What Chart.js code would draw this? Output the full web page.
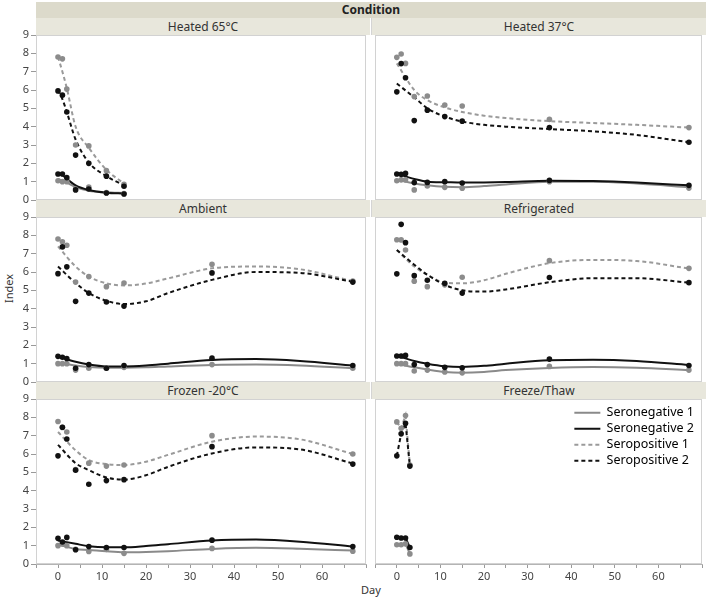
<!DOCTYPE html>
<html>
<head>
<meta charset="utf-8">
<script src="https://cdn.jsdelivr.net/npm/chart.js@4.4.1/dist/chart.umd.min.js"></script>
<style>
  body { margin: 0; background: #fff; font-family: 'Noto Sans', 'Open Sans', sans-serif; }
  #wrap { position: relative; width: 708px; height: 598px; overflow: hidden; }
  .bar { position: absolute; background: #e8e7dc; color: #333; font-size: 12px; text-align: center; line-height: 17px; }
  .head { background: #dcdacb; font-weight: bold; color: #222; line-height: 16px; }
  .box { position: absolute; }
  .lbl { position: absolute; font-size: 11px; color: #333; }
</style>
</head>
<body>
<div id="wrap"></div>
<script>
// серии и дни отбора проб
const seriesNames = ['Seronegative 1', 'Seronegative 2', 'Seropositive 1', 'Seropositive 2'];
const sampleDays = [0, 1, 2, 4, 7, 11, 15, 35, 67];
const heated65Days = [0, 1, 2, 4, 7, 11, 15];
const freezeCycles = [0, 1, 2, 3];
const fitDays = [0, 4, 7, 11, 15, 20, 25, 35, 45, 55, 67];
const xTicks = [-5, 70, 5];   // min, max, step
const yTicks = [0, 9, 1];

// наблюдения (порядок как в seriesNames)
const heated65Obs = [
  [1.05, 1.0, 1.0, 0.6, 0.7, 0.4, 0.35],
  [1.42, 1.42, 1.22, 0.55, 0.6, 0.38, 0.33],
  [7.8, 7.7, 6.05, 3.0, 2.95, 1.6, 0.85],
  [5.95, 5.72, 4.8, 2.45, 2.0, 1.3, 0.75]
];
const heated65Fit = [
  [1.15, 1.05, 0.95, 0.7, 0.5, 0.42, 0.38],
  [1.42, 1.35, 1.15, 0.8, 0.55, 0.4, 0.35],
  [7.8, 7.0, 6.1, 4.0, 2.85, 1.65, 0.9],
  [6.0, 5.5, 4.8, 3.3, 2.05, 1.3, 0.8]
];
const heated37Obs = [
  [1.05, 1.1, 1.1, 0.55, 0.76, 0.69, 0.64, 1.0, 0.65],
  [1.42, 1.4, 1.45, 0.95, 0.96, 1.0, 0.93, 1.07, 0.8],
  [7.78, 7.96, 7.45, 5.64, 5.67, 5.18, 5.13, 4.4, 3.95],
  [5.9, 7.44, 6.67, 4.33, 4.9, 4.55, 4.3, 3.95, 3.15]
];
const heated37Fit = [
  [1.1, 0.9, 0.8, 0.72, 0.7, 0.76, 0.85, 1.0, 1.0, 0.9, 0.7],
  [1.42, 1.15, 1.0, 0.97, 0.95, 0.96, 0.98, 1.05, 1.03, 0.95, 0.8],
  [7.45, 6.0, 5.45, 5.05, 4.8, 4.6, 4.47, 4.3, 4.2, 4.1, 3.95],
  [6.35, 5.6, 5.0, 4.55, 4.28, 4.1, 4.0, 3.87, 3.75, 3.55, 3.15]
];
const ambientObs = [
  [1.0, 1.0, 1.0, 0.65, 0.75, 0.75, 0.8, 0.95, 0.75],
  [1.4, 1.35, 1.28, 0.75, 0.95, 0.75, 0.9, 1.3, 0.9],
  [7.8, 7.65, 7.46, 5.45, 5.75, 5.2, 5.4, 6.42, 5.5],
  [5.91, 7.37, 6.28, 4.4, 4.85, 4.36, 4.14, 5.95, 5.45]
];
const ambientFit = [
  [1.05, 0.9, 0.82, 0.78, 0.78, 0.8, 0.85, 0.93, 0.95, 0.9, 0.75],
  [1.4, 1.1, 0.95, 0.85, 0.85, 0.9, 1.0, 1.2, 1.25, 1.15, 0.9],
  [7.4, 6.3, 5.75, 5.38, 5.27, 5.37, 5.65, 6.2, 6.3, 6.15, 5.5],
  [6.3, 5.4, 4.85, 4.43, 4.25, 4.4, 4.85, 5.57, 6.0, 5.95, 5.47]
];
const refrigeratedObs = [
  [1.0, 1.0, 1.0, 0.6, 0.65, 0.55, 0.5, 0.85, 0.65],
  [1.42, 1.42, 1.45, 0.95, 0.95, 0.8, 0.78, 1.25, 0.9],
  [7.76, 7.75, 7.2, 5.5, 5.2, 5.3, 5.71, 6.62, 6.2],
  [5.9, 8.6, 7.6, 5.8, 5.55, 5.38, 4.85, 5.7, 5.42]
];
const refrigeratedFit = [
  [1.0, 0.8, 0.68, 0.55, 0.51, 0.55, 0.65, 0.77, 0.82, 0.78, 0.64],
  [1.42, 1.15, 1.0, 0.86, 0.82, 0.88, 1.0, 1.19, 1.22, 1.15, 0.93],
  [7.2, 6.3, 5.85, 5.42, 5.38, 5.55, 5.9, 6.48, 6.66, 6.6, 6.19],
  [7.2, 6.4, 5.85, 5.3, 5.0, 4.93, 5.05, 5.44, 5.66, 5.66, 5.42]
];
const frozenObs = [
  [1.0, 1.1, 1.0, 0.8, 0.68, 0.8, 0.58, 0.85, 0.7],
  [1.4, 1.2, 1.45, 0.78, 0.95, 0.9, 0.9, 1.3, 0.95],
  [7.77, 7.45, 7.2, 5.15, 5.5, 5.34, 5.4, 7.0, 6.0],
  [5.9, 7.46, 6.82, 5.12, 4.35, 4.55, 4.6, 6.4, 5.45]
];
const frozenFit = [
  [1.06, 0.82, 0.77, 0.69, 0.64, 0.66, 0.7, 0.82, 0.88, 0.83, 0.73],
  [1.28, 1.1, 0.97, 0.91, 0.91, 0.98, 1.08, 1.28, 1.33, 1.22, 0.95],
  [7.2, 6.2, 5.67, 5.45, 5.4, 5.58, 5.95, 6.67, 6.95, 6.8, 6.0],
  [6.5, 5.5, 5.12, 4.72, 4.6, 4.84, 5.3, 6.03, 6.36, 6.25, 5.48]
];
const freezeObs = [
  [1.05, 1.05, 1.1, 0.55],
  [1.46, 1.42, 1.42, 0.9],
  [7.75, 7.4, 8.1, 5.4],
  [5.9, 7.1, 7.68, 5.34]
];

const panels = [
  { title: 'Heated 65°C', days: heated65Days, obs: heated65Obs, fitX: heated65Days, fit: heated65Fit },
  { title: 'Heated 37°C', days: sampleDays, obs: heated37Obs, fitX: fitDays, fit: heated37Fit },
  { title: 'Ambient', days: sampleDays, obs: ambientObs, fitX: fitDays, fit: ambientFit },
  { title: 'Refrigerated', days: sampleDays, obs: refrigeratedObs, fitX: fitDays, fit: refrigeratedFit },
  { title: 'Frozen -20°C', days: sampleDays, obs: frozenObs, fitX: fitDays, fit: frozenFit },
  { title: 'Freeze/Thaw', days: freezeCycles, obs: freezeObs, fitX: freezeCycles, fit: freezeObs, straight: true }
];

// оформление
const pointColors = ['#8c8c8c', '#111111', '#8c8c8c', '#111111'];
const lineColors = ['#8a8a8a', '#111111', '#9a9a9a', '#111111'];
const dashes = [[], [], [4, 3], [4, 3]];
const colLeft = [36, 371];
const colW = [334, 335];
const rowTop = [35, 217, 399];
const plotH = 165;

const wrap = document.getElementById('wrap');
function addDiv(cls, css, text) {
  const d = document.createElement('div');
  d.className = cls;
  Object.assign(d.style, css);
  if (text) d.textContent = text;
  wrap.appendChild(d);
  return d;
}

addDiv('bar head', { left: '36px', top: '2px', width: '670px', height: '16px' }, 'Condition');
addDiv('lbl', { left: '-12px', top: '281px', transform: 'rotate(-90deg)', width: '40px', textAlign: 'center' }, 'Index');
addDiv('lbl', { left: '351px', top: '582px', width: '40px', textAlign: 'center' }, 'Day');

const framePlugin = {
  id: 'frame',
  afterDraw(chart) {
    const a = chart.chartArea, ctx = chart.ctx;
    ctx.save();
    ctx.strokeStyle = '#d2d2d2';
    ctx.lineWidth = 1;
    ctx.strokeRect(a.left + 0.5, a.top + 0.5, a.right - a.left - 1, a.bottom - a.top - 1);
    ctx.restore();
  }
};

// легенда внутри области графика, справа сверху
const legendPlacer = {
  id: 'legendPlacer',
  afterLayout(chart) {
    const lg = chart.legend;
    if (!lg || !lg.options.display) return;
    const a = chart.chartArea;
    const w = lg.width, h = lg.height;
    lg.left = a.right - w + 2;
    lg.right = lg.left + w;
    lg.top = a.top + 4;
    lg.bottom = lg.top + h;
  }
};

panels.forEach((p, k) => {
  const row = Math.floor(k / 2), col = k % 2;
  const left = col === 0, bottom = row === 2;
  const bar = addDiv('bar', { left: colLeft[col] + 'px', top: (rowTop[row] - 17) + 'px', width: colW[col] + 'px', height: '17px' }, p.title);
  if (!left) {
    bar.style.borderLeft = '1px solid #d4d4d4';
    bar.style.boxSizing = 'border-box';
  }

  const padT = 10, padB = bottom ? 0 : 10, axisH = bottom ? 32 : 0, yW = left ? 36 : 0;
  const box = addDiv('box', {
    left: (colLeft[col] - yW) + 'px', top: (rowTop[row] - padT) + 'px',
    width: (colW[col] + yW) + 'px', height: (plotH + padT + padB + axisH) + 'px'
  });
  const canvas = document.createElement('canvas');
  box.appendChild(canvas);

  const datasets = [];
  // точки: чёрные поверх серых, линии ниже точек
  seriesNames.forEach((name, i) => {
    datasets.push({
      label: name + ' obs',
      data: p.days.map((d, j) => ({ x: d, y: p.obs[i][j] })),
      pointRadius: 2.8,
      pointBackgroundColor: pointColors[i],
      pointBorderColor: pointColors[i],
      pointBorderWidth: 0,
      showLine: false,
      order: i % 2 === 1 ? 0 : 1
    });
    datasets.push({
      label: name,
      data: p.fitX.map((d, j) => ({ x: d, y: p.fit[i][j] })),
      showLine: true,
      pointRadius: 0,
      borderColor: lineColors[i],
      borderWidth: 2,
      borderDash: dashes[i],
      cubicInterpolationMode: p.straight ? 'default' : 'monotone',
      tension: p.straight ? 0 : 0.4,
      order: i % 2 === 1 ? 2 : 3
    });
  });

  const isLegend = k === 5;
  new Chart(canvas, {
    type: 'scatter',
    data: { datasets },
    options: {
      responsive: true,
      maintainAspectRatio: false,
      animation: false,
      layout: { padding: { top: padT, bottom: padB, left: 0, right: 0 } },
      plugins: {
        tooltip: { enabled: false },
        legend: {
          display: isLegend,
          position: 'chartArea',
          align: 'start',
          labels: {
            usePointStyle: true,
            pointStyleWidth: 26,
            padding: 3.5,
            color: '#222',
            font: { family: "'Noto Sans', sans-serif", size: 12.5 },
            generateLabels: () => seriesNames.map((n, i) => ({
              text: n,
              strokeStyle: lineColors[i],
              fillStyle: lineColors[i],
              lineWidth: 2,
              lineDash: dashes[i],
              pointStyle: 'line',
              hidden: false,
              datasetIndex: i * 2 + 1
            }))
          }
        }
      },
      scales: {
        x: {
          type: 'linear',
          min: xTicks[0], max: xTicks[1],
          display: bottom,
          ticks: {
            stepSize: xTicks[2], autoSkip: false, maxRotation: 0, padding: 2,
            color: '#444', font: { family: "'Noto Sans', sans-serif", size: 11 },
            callback: v => (v % 10 === 0 && v < xTicks[1] ? v : '')
          },
          grid: { drawOnChartArea: false, tickLength: 4, color: '#9a9a9a' },
          border: { color: '#b4b4b4' },
          afterFit: s => { s.height = axisH; }
        },
        y: {
          min: yTicks[0], max: yTicks[1],
          display: left,
          ticks: {
            stepSize: yTicks[2], padding: 2,
            color: '#444', font: { family: "'Noto Sans', sans-serif", size: 11 }
          },
          grid: { drawOnChartArea: false, tickLength: 5, color: '#9a9a9a' },
          border: { color: '#b4b4b4' },
          afterFit: s => { s.width = yW; }
        }
      }
    },
    plugins: [framePlugin, legendPlacer]
  });
});
</script>
</body>
</html>
